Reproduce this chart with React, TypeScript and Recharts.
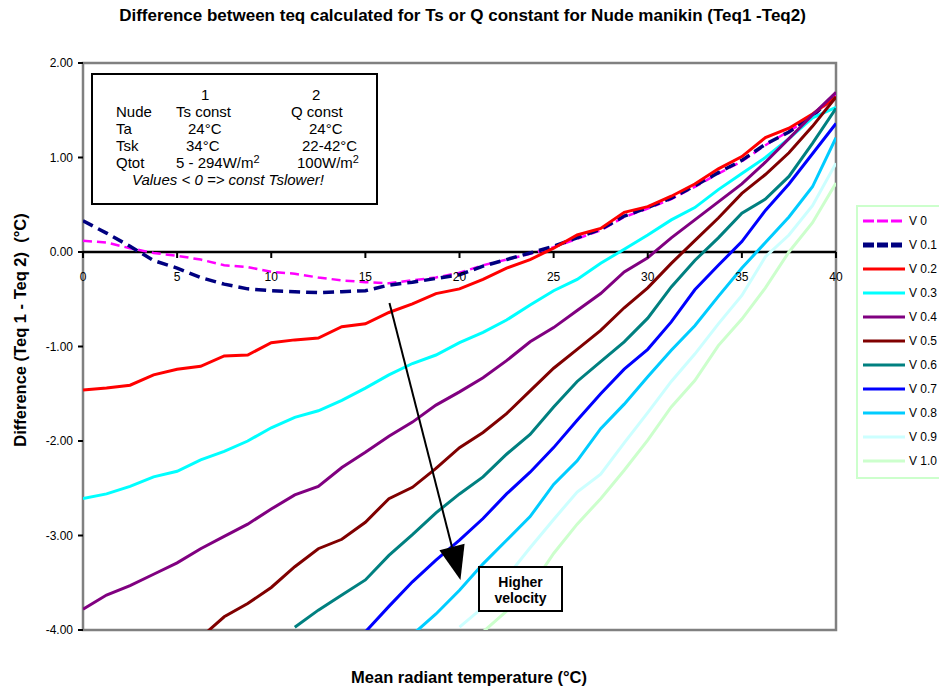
import { LineChart, Line, XAxis, YAxis, ReferenceLine, ReferenceArea } from "recharts";

// Mean radiant temperature (°C), one point every 1.25 °C
const mrt = [
  0, 1.25, 2.5, 3.75, 5, 6.25, 7.5, 8.75, 10, 11.25, 12.5, 13.75, 15, 16.25, 17.5, 18.75, 20,
  21.25, 22.5, 23.75, 25, 26.25, 27.5, 28.75, 30, 31.25, 32.5, 33.75, 35, 36.25, 37.5, 38.75, 40,
];

const _ = null;

const v00 = [
  0.12, 0.1, 0.04, -0.01, -0.04, -0.08, -0.14, -0.16, -0.21, -0.23, -0.27, -0.3, -0.32, -0.33, -0.3, -0.27, -0.22,
  -0.14, -0.08, -0.02, 0.05, 0.14, 0.23, 0.37, 0.46, 0.56, 0.69, 0.83, 0.96, 1.13, 1.28, 1.43, 1.66,
];
const v01 = [
  0.33, 0.2, 0.06, -0.09, -0.17, -0.27, -0.34, -0.39, -0.41, -0.42, -0.43, -0.42, -0.41, -0.35, -0.32, -0.28, -0.24,
  -0.15, -0.08, -0.01, 0.06, 0.15, 0.24, 0.38, 0.47, 0.57, 0.7, 0.84, 0.97, 1.14, 1.27, 1.44, 1.67,
];
const v02 = [
  -1.46, -1.44, -1.41, -1.3, -1.24, -1.21, -1.1, -1.09, -0.96, -0.93, -0.91, -0.79, -0.76, -0.64, -0.55, -0.44, -0.39,
  -0.29, -0.17, -0.08, 0.04, 0.18, 0.25, 0.42, 0.48, 0.59, 0.72, 0.88, 1.01, 1.21, 1.31, 1.46, 1.64,
];
const v03 = [
  -2.61, -2.56, -2.48, -2.38, -2.32, -2.2, -2.11, -2.0, -1.86, -1.75, -1.68, -1.57, -1.44, -1.3, -1.18, -1.09, -0.96,
  -0.85, -0.72, -0.56, -0.41, -0.29, -0.12, 0.03, 0.18, 0.34, 0.47, 0.66, 0.83, 1.0, 1.2, 1.42, 1.53,
];
const v04 = [
  -3.78, -3.63, -3.53, -3.41, -3.29, -3.14, -3.01, -2.88, -2.72, -2.57, -2.48, -2.28, -2.12, -1.95, -1.8, -1.62, -1.48,
  -1.33, -1.15, -0.95, -0.8, -0.62, -0.44, -0.21, -0.06, 0.15, 0.34, 0.53, 0.72, 0.95, 1.2, 1.45, 1.69,
];
const v05 = [
  _, _, _, _, _, -4.08, -3.86, -3.72, -3.55, -3.33, -3.14, -3.04, -2.86, -2.61, -2.49, -2.29, -2.07,
  -1.91, -1.71, -1.47, -1.23, -1.03, -0.83, -0.59, -0.38, -0.12, 0.12, 0.36, 0.62, 0.82, 1.05, 1.33, 1.64,
];
const v06 = [
  _, _, _, _, _, _, _, _, _, -3.97, -3.79, -3.63, -3.47, -3.21, -2.99, -2.76, -2.56,
  -2.38, -2.14, -1.93, -1.64, -1.37, -1.16, -0.95, -0.7, -0.37, -0.09, 0.15, 0.41, 0.56, 0.8, 1.15, 1.52,
];
const v07 = [
  _, _, _, _, _, _, _, _, _, _, _, _, -4.02, -3.75, -3.49, -3.26, -3.05,
  -2.82, -2.56, -2.33, -2.07, -1.78, -1.5, -1.24, -1.03, -0.74, -0.4, -0.14, 0.11, 0.44, 0.72, 1.04, 1.36,
];
const v08 = [
  _, _, _, _, _, _, _, _, _, _, _, _, _, _, -4.05, -3.83, -3.58,
  -3.3, -3.05, -2.8, -2.46, -2.21, -1.87, -1.61, -1.32, -1.04, -0.78, -0.47, -0.17, 0.1, 0.37, 0.69, 1.21,
];
const v09 = [
  _, _, _, _, _, _, _, _, _, _, _, _, _, _, _, _, -3.97,
  -3.76, -3.44, -3.13, -2.83, -2.54, -2.35, -2.02, -1.7, -1.37, -1.08, -0.76, -0.46, -0.05, 0.18, 0.49, 0.94,
];
const v10 = [
  _, _, _, _, _, _, _, _, _, _, _, _, _, _, _, _, _,
  -4.02, -3.8, -3.56, -3.19, -2.88, -2.61, -2.31, -1.99, -1.64, -1.36, -0.99, -0.71, -0.38, 0.0, 0.31, 0.73,
];

const xTicks = [0, 5, 10, 15, 20, 25, 30, 35, 40];
const yTicks = [-4, -3, -2, -1, 0, 1, 2];

const series = [
  { key: "v00", name: "V 0", values: v00, color: "#FF00FF", width: 2.5, dash: "9 5" },
  { key: "v01", name: "V 0.1", values: v01, color: "#000080", width: 3.5, dash: "11 6" },
  { key: "v02", name: "V 0.2", values: v02, color: "#FF0000", width: 3 },
  { key: "v03", name: "V 0.3", values: v03, color: "#00FFFF", width: 3 },
  { key: "v04", name: "V 0.4", values: v04, color: "#800080", width: 3 },
  { key: "v05", name: "V 0.5", values: v05, color: "#800000", width: 3 },
  { key: "v06", name: "V 0.6", values: v06, color: "#008080", width: 3 },
  { key: "v07", name: "V 0.7", values: v07, color: "#0000FF", width: 3 },
  { key: "v08", name: "V 0.8", values: v08, color: "#00CCFF", width: 3 },
  { key: "v09", name: "V 0.9", values: v09, color: "#CCFFFF", width: 3 },
  { key: "v10", name: "V 1.0", values: v10, color: "#CCFFCC", width: 3 },
];

const data = mrt.map((x, i) => {
  const row: Record<string, number | null> = { x };
  series.forEach((s) => (row[s.key] = s.values[i]));
  return row;
});

const FONT = "'Liberation Sans', Arial, sans-serif";
const W = 939;
const H = 687;
const PLOT = { left: 83, top: 63, right: 836, bottom: 630 };
const Y_MIN = -4;
const Y_MAX = 2;
const ZERO_Y = PLOT.top + ((Y_MAX - 0) / (Y_MAX - Y_MIN)) * (PLOT.bottom - PLOT.top);

// x labels sit under the zero line, not under the plot
const XTick = (props: any) => {
  const { x, payload } = props;
  return (
    <g>
      <line x1={x} x2={x} y1={ZERO_Y} y2={ZERO_Y + 6} stroke="#000" strokeWidth={2} />
      <text x={x} y={ZERO_Y + 29} textAnchor="middle" fontSize={12} fontFamily={FONT} fill="#000">
        {payload.value}
      </text>
    </g>
  );
};

const Arrow = (props: any) => {
  const { x1, y1, x2, y2 } = props;
  const dx = x2 - x1;
  const dy = y2 - y1;
  const len = Math.sqrt(dx * dx + dy * dy);
  const ux = dx / len;
  const uy = dy / len;
  const bx = x2 - ux * 34;
  const by = y2 - uy * 34;
  const hw = 13;
  return (
    <g>
      <line x1={x1} y1={y1} x2={bx} y2={by} stroke="#000" strokeWidth={2} />
      <polygon
        points={`${x2},${y2} ${bx - uy * hw},${by + ux * hw} ${bx + uy * hw},${by - ux * hw}`}
        fill="#000"
      />
    </g>
  );
};

const abs = (left: number, top: number, extra: any = {}) => ({
  position: "absolute" as const,
  left,
  top,
  whiteSpace: "nowrap" as const,
  ...extra,
});

const InfoBox = () => {
  const t = (left: number, cy: number, text: any, extra: any = {}) => (
    <span style={abs(left - 91, cy - 73 - 8, { lineHeight: "16px", ...extra })}>{text}</span>
  );
  const sup = <sup style={{ fontSize: 11, verticalAlign: "5px", lineHeight: 0 }}>2</sup>;
  return (
    <div
      style={{
        position: "absolute",
        left: 91,
        top: 73,
        width: 283,
        height: 128,
        border: "2px solid #000",
        background: "#fff",
        fontFamily: FONT,
        fontSize: 15,
        color: "#000",
      }}
    >
      {t(199, 93, "1")}
      {t(310, 93, "2")}
      {t(114, 110, "Nude")}
      {t(174, 110, "Ts const")}
      {t(289, 110, "Q const")}
      {t(114, 127, "Ta")}
      {t(186, 127, "24°C")}
      {t(307, 127, "24°C")}
      {t(114, 144, "Tsk")}
      {t(184, 144, "34°C")}
      {t(300, 144, "22-42°C")}
      {t(114, 161, "Qtot")}
      {t(174, 161, <>5 - 294W/m{sup}</>)}
      {t(295, 161, <>100W/m{sup}</>)}
      {t(130, 178, "Values < 0 => const Tslower!", { fontStyle: "italic" })}
    </div>
  );
};

const LegendBox = () => (
  <div
    style={{
      position: "absolute",
      left: 856,
      top: 205,
      width: 100,
      height: 270,
      border: "2px solid #CCFFCC",
      background: "#fff",
      fontFamily: FONT,
      fontSize: 12,
    }}
  >
    {series.map((s, i) => (
      <div key={s.key} style={abs(0, 6 + i * 24, { height: 16, width: 100 })}>
        <svg width={48} height={16} style={{ position: "absolute", left: 3, top: 0 }}>
          <line
            x1={2}
            x2={44}
            y1={8}
            y2={8}
            stroke={s.color}
            strokeWidth={s.key === "v01" ? 5 : 3}
            strokeDasharray={s.dash ? "11 3" : undefined}
          />
        </svg>
        <span style={abs(51, 1, { lineHeight: "14px", color: "#000" })}>{s.name}</span>
      </div>
    ))}
  </div>
);

export default function App() {
  return (
    <div
      style={{
        position: "absolute",
        left: 0,
        top: 0,
        width: W,
        height: H,
        overflow: "hidden",
        background: "#fff",
        fontFamily: FONT,
      }}
    >
      <div style={abs(0, 6, { width: 925, textAlign: "center", fontWeight: "bold", fontSize: 17, lineHeight: "20px" })}>
        Difference between teq calculated for Ts or Q constant for Nude manikin (Teq1 -Teq2)
      </div>

      <LineChart
        width={W}
        height={H}
        data={data}
        margin={{ top: PLOT.top, right: W - PLOT.right, bottom: H - PLOT.bottom - 20, left: PLOT.left - 60 }}
      >
        <ReferenceArea
          x1={0}
          x2={40}
          y1={Y_MIN}
          y2={Y_MAX}
          fill="none"
          fillOpacity={0}
          stroke="#808080"
          strokeWidth={2.5}
        />
        <XAxis
          type="number"
          dataKey="x"
          domain={[0, 40]}
          ticks={xTicks}
          allowDataOverflow
          axisLine={false}
          tickLine={false}
          height={20}
          tick={<XTick />}
        />
        <YAxis
          type="number"
          domain={[Y_MIN, Y_MAX]}
          ticks={yTicks}
          allowDataOverflow
          width={60}
          axisLine={false}
          tickLine={{ stroke: "#000", strokeWidth: 2 }}
          tickSize={5}
          tickMargin={5}
          tickFormatter={(v: number) => v.toFixed(2)}
          tick={{ fill: "#000", fontSize: 12, fontFamily: FONT }}
        />
        <ReferenceLine y={0} stroke="#000" strokeWidth={2.5} />
        {series.map((s) => (
          <Line
            key={s.key}
            type="linear"
            dataKey={s.key}
            name={s.name}
            stroke={s.color}
            strokeWidth={s.width}
            strokeDasharray={s.dash}
            dot={false}
            activeDot={false}
            isAnimationActive={false}
          />
        ))}
        <ReferenceLine
          segment={[
            { x: 16.28, y: -0.54 },
            { x: 20.05, y: -3.47 },
          ]}
          shape={<Arrow />}
        />
      </LineChart>

      <InfoBox />

      <div
        style={abs(478, 566, {
          width: 85,
          height: 46,
          border: "2px solid #000",
          background: "#fff",
          fontWeight: "bold",
          fontSize: 14,
          lineHeight: "16px",
          textAlign: "center",
          paddingTop: 6,
          boxSizing: "border-box",
        })}
      >
        Higher
        <br />
        velocity
      </div>

      <LegendBox />

      <div
        style={abs(20, 330, {
          transform: "translate(-50%, -50%) rotate(-90deg)",
          fontWeight: "bold",
          fontSize: 16.5,
        })}
      >
        Difference (Teq 1 - Teq 2)&nbsp;&nbsp;(°C)
      </div>

      <div style={abs(469, 668, { transform: "translateX(-50%)", fontWeight: "bold", fontSize: 16.5 })}>
        Mean radiant temperature (°C)
      </div>
    </div>
  );
}
